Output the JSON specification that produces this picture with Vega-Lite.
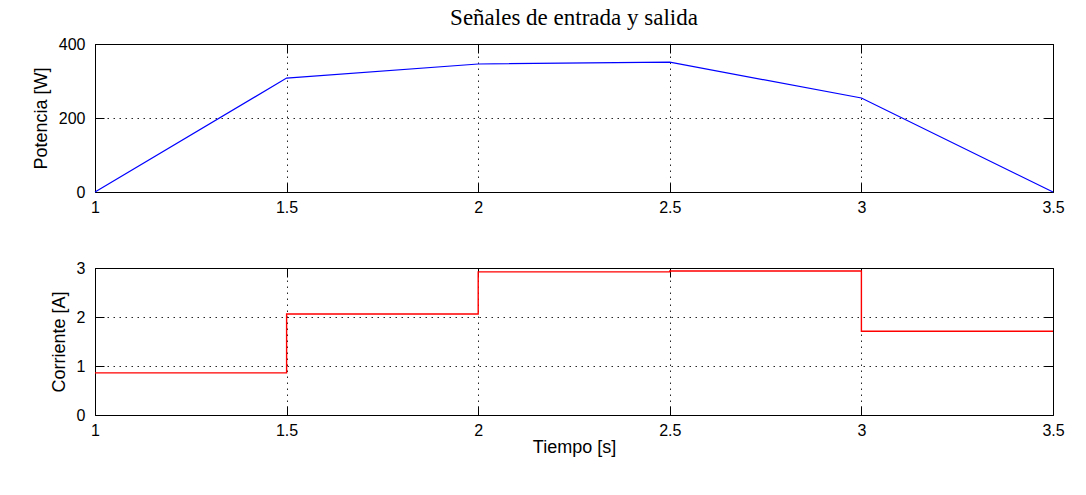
{
  "$schema": "https://vega.github.io/schema/vega-lite/v6.json",
  "background": "white",
  "padding": {"left": 31, "top": 6, "right": 30, "bottom": 20},
  "bounds": "flush",
  "spacing": 76,
  "datasets": {
    "potencia": [
      {"t": 1, "p": 0},
      {"t": 1.5, "p": 308},
      {"t": 2, "p": 346},
      {"t": 2.5, "p": 351},
      {"t": 3, "p": 254},
      {"t": 3.5, "p": 0}
    ],
    "corriente": [
      {"t": 1, "c": 0.86},
      {"t": 1.5, "c": 2.06},
      {"t": 2, "c": 2.92},
      {"t": 2.5, "c": 2.94},
      {"t": 3, "c": 1.71},
      {"t": 3.5, "c": 1.71}
    ]
  },
  "vconcat": [
    {
      "width": 958,
      "height": 148,
      "title": {"text": "Señales de entrada y salida", "font": "Liberation Serif", "fontSize": 23, "fontWeight": "normal", "color": "#000", "offset": 6},
      "data": {"name": "potencia"},
      "resolve": {"axis": {"x": "independent", "y": "independent"}},
      "layer": [
        {
          "mark": {"type": "line", "color": "#0000ff", "strokeWidth": 1.2},
          "encoding": {
            "x": {"field": "t", "type": "quantitative", "scale": {"domain": [1, 3.5], "nice": false, "zero": false}, "axis": {"values": [1, 1.5, 2, 2.5, 3, 3.5], "format": "~g", "title": null, "labelPadding": 16}},
            "y": {"field": "p", "type": "quantitative", "scale": {"domain": [0, 400], "nice": false}, "axis": {"values": [0, 200, 400], "title": "Potencia [W]"}}
          }
        },
        {
          "mark": {"type": "line", "opacity": 0},
          "encoding": {
            "x": {"field": "t", "type": "quantitative", "axis": {"values": [1, 1.5, 2, 2.5, 3, 3.5], "labels": false, "grid": false, "title": null}},
            "y": {"field": "p", "type": "quantitative", "axis": {"values": [0, 200, 400], "labels": false, "grid": false, "title": null}}
          }
        }
      ]
    },
    {
      "width": 958,
      "height": 147,
      "data": {"name": "corriente"},
      "resolve": {"axis": {"x": "independent", "y": "independent"}},
      "layer": [
        {
          "mark": {"type": "line", "color": "#ff0000", "strokeWidth": 1.4, "interpolate": "step-after"},
          "encoding": {
            "x": {"field": "t", "type": "quantitative", "scale": {"domain": [1, 3.5], "nice": false, "zero": false}, "axis": {"values": [1, 1.5, 2, 2.5, 3, 3.5], "format": "~g", "title": "Tiempo [s]", "titlePadding": 0, "labelPadding": 16}},
            "y": {"field": "c", "type": "quantitative", "scale": {"domain": [0, 3], "nice": false}, "axis": {"values": [0, 1, 2, 3], "title": "Corriente [A]"}}
          }
        },
        {
          "mark": {"type": "line", "opacity": 0},
          "encoding": {
            "x": {"field": "t", "type": "quantitative", "axis": {"values": [1, 1.5, 2, 2.5, 3, 3.5], "labels": false, "grid": false, "title": null}},
            "y": {"field": "c", "type": "quantitative", "axis": {"values": [0, 1, 2, 3], "labels": false, "grid": false, "title": null}}
          }
        }
      ]
    }
  ],
  "config": {
    "view": {"stroke": "#000", "strokeWidth": 1},
    "axis": {
      "domain": false,
      "grid": true,
      "gridColor": "#000",
      "gridDash": [1.5, 4.5],
      "gridOpacity": 0.85,
      "tickColor": "#000",
      "tickSize": -9,
      "labelPadding": 19,
      "labelFlush": false,
      "labelFont": "Liberation Sans",
      "labelFontSize": 16,
      "labelColor": "#000",
      "titleFont": "Liberation Sans",
      "titleFontSize": 18,
      "titleFontWeight": "normal",
      "titleColor": "#000",
      "titlePadding": 8
    }
  }
}
